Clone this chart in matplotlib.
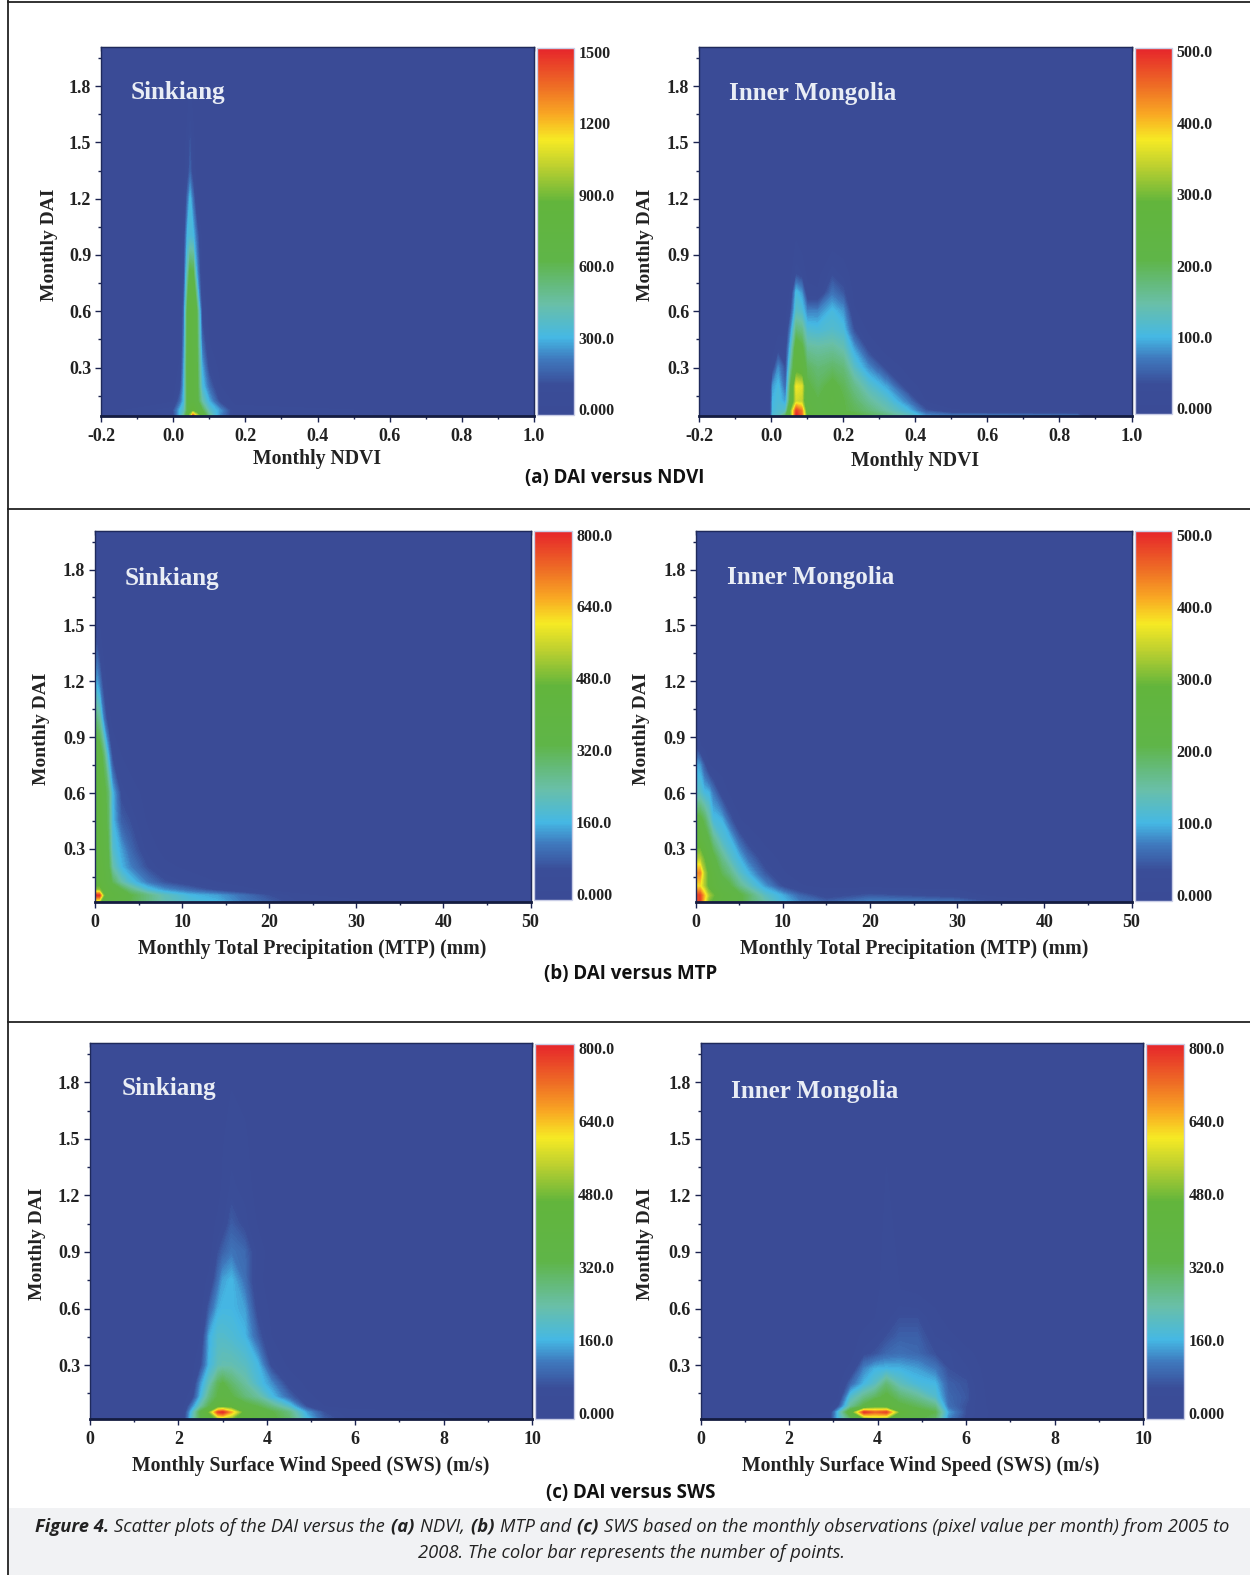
import numpy as np
import matplotlib
matplotlib.use("Agg")
import matplotlib.pyplot as plt
from matplotlib.cm import ScalarMappable
from matplotlib.colors import LinearSegmentedColormap, Normalize
from matplotlib.patches import Rectangle

W, H = 1250, 1575
SERIF = "Liberation Serif"
SANS = "Open Sans"

# =========================
# Data (counts per cell, rows = DAI, cols = x)
# =========================
a1_x = [-0.2, 0.0, 0.02, 0.03, 0.04, 0.047, 0.055, 0.065, 0.08, 0.1, 0.13, 0.17, 1.0]
a1_y = [0.04, 0.07, 0.12, 0.2, 0.3, 0.45, 0.6, 0.8, 1.0, 1.2, 1.35, 1.5, 1.7, 2.01]
a1_z = [
    [0, 90, 340, 500, 750, 1000, 1450, 1100, 800, 500, 240, 70, 0],
    [0, 130, 330, 400, 640, 800, 850, 750, 640, 400, 270, 70, 0],
    [0, 30, 200, 330, 650, 720, 720, 680, 450, 300, 110, 15, 0],
    [0, 0, 110, 310, 660, 720, 720, 670, 350, 190, 40, 0, 0],
    [0, 0, 50, 290, 680, 720, 720, 650, 300, 100, 15, 0, 0],
    [0, 0, 15, 240, 660, 720, 700, 640, 190, 30, 0, 0, 0],
    [0, 0, 0, 200, 650, 720, 720, 620, 100, 5, 0, 0, 0],
    [0, 0, 0, 120, 450, 660, 640, 300, 30, 0, 0, 0, 0],
    [0, 0, 0, 80, 320, 350, 330, 200, 10, 0, 0, 0, 0],
    [0, 0, 0, 10, 200, 320, 200, 40, 0, 0, 0, 0, 0],
    [0, 0, 0, 0, 90, 170, 80, 5, 0, 0, 0, 0, 0],
    [0, 0, 0, 0, 70, 140, 60, 0, 0, 0, 0, 0, 0],
    [0, 0, 0, 0, 20, 60, 20, 0, 0, 0, 0, 0, 0],
    [0, 0, 0, 0, 0, 0, 0, 0, 0, 0, 0, 0, 0],
]

a2_x = [-0.2, -0.005, 0.005, 0.02, 0.04, 0.055, 0.07, 0.085, 0.1, 0.13, 0.17, 0.2, 0.23, 0.27, 0.32, 0.38, 0.43, 0.5, 0.7, 0.85, 0.88, 1.0]
a2_y = [0.04, 0.07, 0.12, 0.2, 0.3, 0.4, 0.5, 0.6, 0.7, 0.8, 0.95, 1.1, 2.01]
a2_z = [
    [0, 0, 120, 130, 200, 300, 500, 450, 280, 240, 240, 230, 220, 200, 180, 140, 90, 85, 85, 80, 0, 0],
    [0, 0, 110, 120, 130, 300, 480, 440, 240, 210, 220, 210, 200, 180, 150, 110, 50, 15, 5, 0, 0, 0],
    [0, 0, 105, 115, 90, 230, 350, 340, 225, 210, 225, 210, 190, 160, 130, 75, 10, 0, 0, 0, 0, 0],
    [0, 0, 90, 110, 60, 210, 370, 360, 215, 195, 220, 200, 170, 130, 95, 25, 0, 0, 0, 0, 0, 0],
    [0, 0, 30, 85, 40, 160, 265, 250, 195, 180, 190, 180, 130, 85, 35, 0, 0, 0, 0, 0, 0, 0],
    [0, 0, 0, 30, 25, 120, 240, 220, 160, 155, 160, 145, 95, 35, 0, 0, 0, 0, 0, 0, 0, 0],
    [0, 0, 0, 5, 5, 85, 180, 170, 120, 115, 125, 115, 45, 5, 0, 0, 0, 0, 0, 0, 0, 0],
    [0, 0, 0, 0, 0, 45, 130, 120, 80, 80, 110, 90, 15, 0, 0, 0, 0, 0, 0, 0, 0, 0],
    [0, 0, 0, 0, 0, 15, 110, 90, 20, 15, 70, 50, 5, 0, 0, 0, 0, 0, 0, 0, 0, 0],
    [0, 0, 0, 0, 0, 5, 40, 30, 5, 5, 40, 25, 0, 0, 0, 0, 0, 0, 0, 0, 0, 0],
    [0, 0, 0, 0, 0, 0, 15, 5, 0, 0, 5, 0, 0, 0, 0, 0, 0, 0, 0, 0, 0, 0],
    [0, 0, 0, 0, 0, 0, 0, 0, 0, 0, 0, 0, 0, 0, 0, 0, 0, 0, 0, 0, 0, 0],
    [0, 0, 0, 0, 0, 0, 0, 0, 0, 0, 0, 0, 0, 0, 0, 0, 0, 0, 0, 0, 0, 0],
]

b1_x = [0, 0.5, 1, 1.5, 2, 3, 4, 6, 8, 11, 14, 17, 20, 25, 50]
b1_y = [0.012, 0.05, 0.08, 0.12, 0.2, 0.3, 0.45, 0.6, 0.8, 1.0, 1.2, 1.4, 1.6, 2.01]
b1_z = [
    [500, 500, 400, 380, 370, 360, 330, 280, 230, 190, 170, 120, 90, 30, 0],
    [790, 780, 480, 400, 400, 380, 340, 280, 220, 170, 150, 110, 70, 20, 0],
    [500, 500, 420, 400, 380, 340, 280, 190, 140, 100, 60, 30, 10, 0, 0],
    [420, 420, 400, 370, 320, 240, 190, 120, 75, 40, 20, 5, 0, 0, 0],
    [420, 420, 390, 350, 240, 170, 130, 70, 30, 10, 0, 0, 0, 0, 0],
    [400, 400, 380, 330, 200, 150, 100, 40, 5, 0, 0, 0, 0, 0, 0],
    [400, 400, 370, 310, 175, 90, 70, 15, 0, 0, 0, 0, 0, 0, 0],
    [400, 400, 360, 300, 170, 60, 40, 5, 0, 0, 0, 0, 0, 0, 0],
    [380, 380, 300, 170, 60, 20, 0, 0, 0, 0, 0, 0, 0, 0, 0],
    [300, 250, 120, 40, 0, 0, 0, 0, 0, 0, 0, 0, 0, 0, 0],
    [170, 120, 40, 0, 0, 0, 0, 0, 0, 0, 0, 0, 0, 0, 0],
    [90, 40, 0, 0, 0, 0, 0, 0, 0, 0, 0, 0, 0, 0, 0],
    [40, 5, 0, 0, 0, 0, 0, 0, 0, 0, 0, 0, 0, 0, 0],
    [0, 0, 0, 0, 0, 0, 0, 0, 0, 0, 0, 0, 0, 0, 0],
]

b2_x = [0, 0.5, 1, 1.5, 2, 3, 4, 5, 6, 8, 10, 12, 15, 20, 30, 35, 50]
b2_y = [0.012, 0.05, 0.1, 0.17, 0.25, 0.35, 0.45, 0.6, 0.75, 0.85, 1.0, 2.01]
b2_z = [
    [400, 480, 380, 300, 280, 240, 230, 220, 190, 150, 110, 80, 60, 85, 75, 40, 0],
    [470, 480, 400, 330, 300, 250, 240, 220, 190, 130, 100, 60, 30, 50, 30, 0, 0],
    [370, 380, 330, 280, 260, 230, 210, 170, 140, 90, 40, 15, 5, 5, 0, 0, 0],
    [420, 430, 330, 280, 250, 200, 170, 130, 105, 50, 15, 0, 0, 0, 0, 0, 0],
    [330, 330, 290, 250, 220, 170, 130, 105, 70, 25, 5, 0, 0, 0, 0, 0, 0],
    [260, 260, 230, 210, 170, 125, 105, 60, 30, 5, 0, 0, 0, 0, 0, 0, 0],
    [225, 225, 200, 160, 115, 105, 55, 15, 5, 0, 0, 0, 0, 0, 0, 0, 0],
    [130, 130, 110, 105, 75, 30, 5, 0, 0, 0, 0, 0, 0, 0, 0, 0, 0],
    [100, 90, 50, 15, 5, 0, 0, 0, 0, 0, 0, 0, 0, 0, 0, 0, 0],
    [40, 15, 5, 0, 0, 0, 0, 0, 0, 0, 0, 0, 0, 0, 0, 0, 0],
    [5, 0, 0, 0, 0, 0, 0, 0, 0, 0, 0, 0, 0, 0, 0, 0, 0],
    [0, 0, 0, 0, 0, 0, 0, 0, 0, 0, 0, 0, 0, 0, 0, 0, 0],
]

c1_x = [0, 2.1, 2.3, 2.5, 2.7, 2.9, 3.0, 3.2, 3.5, 3.8, 4.1, 4.5, 4.9, 5.3, 5.8, 10]
c1_y = [0.014, 0.05, 0.08, 0.13, 0.2, 0.3, 0.45, 0.6, 0.75, 0.9, 1.05, 1.25, 1.5, 2.01]
c1_z = [
    [0, 20, 200, 330, 400, 500, 520, 480, 430, 370, 350, 300, 180, 90, 50, 0],
    [0, 10, 180, 340, 480, 760, 790, 650, 420, 380, 340, 280, 150, 70, 40, 0],
    [0, 0, 120, 240, 330, 420, 440, 420, 360, 330, 280, 200, 70, 20, 5, 0],
    [0, 0, 40, 170, 280, 340, 360, 340, 290, 250, 180, 100, 30, 5, 0, 0],
    [0, 0, 10, 140, 230, 320, 340, 300, 250, 190, 140, 50, 10, 0, 0, 0],
    [0, 0, 0, 60, 170, 220, 230, 230, 210, 170, 60, 10, 0, 0, 0, 0],
    [0, 0, 0, 20, 160, 200, 200, 190, 170, 90, 20, 0, 0, 0, 0, 0],
    [0, 0, 0, 0, 90, 160, 170, 170, 150, 50, 10, 0, 0, 0, 0, 0],
    [0, 0, 0, 0, 30, 110, 150, 170, 110, 30, 0, 0, 0, 0, 0, 0],
    [0, 0, 0, 0, 0, 70, 90, 115, 100, 40, 0, 0, 0, 0, 0, 0],
    [0, 0, 0, 0, 0, 30, 45, 85, 60, 15, 0, 0, 0, 0, 0, 0],
    [0, 0, 0, 0, 0, 0, 25, 55, 40, 0, 0, 0, 0, 0, 0, 0],
    [0, 0, 0, 0, 0, 0, 15, 40, 25, 0, 0, 0, 0, 0, 0, 0],
    [0, 0, 0, 0, 0, 0, 0, 0, 0, 0, 0, 0, 0, 0, 0, 0],
]

c2_x = [0, 2.9, 3.1, 3.4, 3.7, 3.95, 4.2, 4.5, 4.9, 5.3, 5.6, 6, 6.5, 7, 10]
c2_y = [0.014, 0.05, 0.08, 0.13, 0.2, 0.28, 0.36, 0.45, 0.55, 0.7, 2.01]
c2_z = [
    [0, 30, 170, 300, 450, 520, 480, 360, 340, 300, 130, 60, 15, 0, 0],
    [0, 20, 170, 400, 780, 720, 760, 450, 360, 330, 150, 70, 20, 0, 0],
    [0, 0, 60, 260, 350, 420, 400, 350, 320, 280, 110, 70, 15, 0, 0],
    [0, 0, 5, 200, 270, 310, 350, 300, 260, 200, 100, 80, 10, 0, 0],
    [0, 0, 0, 100, 170, 210, 290, 220, 180, 170, 90, 75, 5, 0, 0],
    [0, 0, 0, 30, 130, 165, 170, 165, 150, 120, 70, 55, 0, 0, 0],
    [0, 0, 0, 5, 60, 75, 100, 110, 100, 70, 70, 30, 0, 0, 0],
    [0, 0, 0, 0, 30, 50, 70, 90, 90, 50, 30, 5, 0, 0, 0],
    [0, 0, 0, 0, 5, 20, 40, 70, 70, 30, 5, 0, 0, 0, 0],
    [0, 0, 0, 0, 0, 5, 40, 20, 10, 0, 0, 0, 0, 0, 0],
    [0, 0, 0, 0, 0, 0, 0, 0, 0, 0, 0, 0, 0, 0, 0],
]

y_ticks = [0.3, 0.6, 0.9, 1.2, 1.5, 1.8]
ndvi_ticks = [-0.2, 0.0, 0.2, 0.4, 0.6, 0.8, 1.0]
mtp_ticks = [0, 10, 20, 30, 40, 50]
sws_ticks = [0, 2, 4, 6, 8, 10]

cbar_1500 = ["0.000", "300.0", "600.0", "900.0", "1200", "1500"]
cbar_500 = ["0.000", "100.0", "200.0", "300.0", "400.0", "500.0"]
cbar_800 = ["0.000", "160.0", "320.0", "480.0", "640.0", "800.0"]

# colour scale of the bars
cmap = LinearSegmentedColormap.from_list("points", [
    (0.00, "#3a4b96"), (0.08, "#3a4d98"), (0.15, "#3f78bd"), (0.21, "#45b8e4"),
    (0.30, "#69bfa8"), (0.42, "#5fb548"), (0.58, "#62b53c"), (0.68, "#bfd12f"),
    (0.75, "#f6ea24"), (0.82, "#f9a823"), (0.90, "#ee6b25"), (1.00, "#e6252b"),
])

# =========================
# Helpers
# =========================
fig = plt.figure(figsize=(W / 100, H / 100), dpi=100, facecolor="white")


def box(x0, y0, x1, y1):
    # pixel box (top-left origin) to figure fraction
    return [x0 / W, 1 - y1 / H, (x1 - x0) / W, (y1 - y0) / H]


def panel(ax_box, cax_box, x, y, z, vmax, xticks, ylim, xlabel, cbar_labels, name, name_xy, xlab_px, ylab_px):
    ax = fig.add_axes(box(*ax_box), facecolor="#3a4b96")
    levels = np.linspace(0, vmax, 160)
    ax.contourf(x, y, np.array(z, dtype=float), levels=levels, cmap=cmap, vmin=0, vmax=vmax, extend="both")
    ax.set_xlim(xticks[0], xticks[-1])
    ax.set_ylim(*ylim)

    ax.set_xticks(xticks)
    ax.set_xticks([(a + b) / 2 for a, b in zip(xticks[:-1], xticks[1:])], minor=True)
    ax.set_yticks(y_ticks)
    ax.set_yticks([t - 0.15 for t in y_ticks] + [1.95], minor=True)
    if xticks[0] < 0:
        ax.set_xticklabels(["%.1f" % t for t in xticks])
    else:
        ax.set_xticklabels([str(t) for t in xticks])
    ax.set_yticklabels(["%.1f" % t for t in y_ticks])
    ax.tick_params(which="major", length=4, width=1, color="#1a2350", pad=3)
    ax.tick_params(axis="x", which="major", pad=4.5)
    ax.tick_params(which="minor", length=2, width=1, color="#1a2350")
    for lab in ax.get_xticklabels() + ax.get_yticklabels():
        lab.set_fontfamily(SERIF)
        lab.set_fontweight("bold")
        lab.set_fontsize(13)
        lab.set_color("#222222")
    for side in ax.spines:
        ax.spines[side].set_color("#1f2a5c")
        ax.spines[side].set_linewidth(1.0)
    ax.spines["bottom"].set_linewidth(2.0)
    ax.spines["bottom"].set_color("#141c40")

    # inward ticks on top and right
    top = ax.secondary_xaxis("top")
    top.set_xticks(xticks, labels=[])
    top.tick_params(direction="in", length=3, width=1, color="#1f2a5c")
    right = ax.secondary_yaxis("right")
    right.set_yticks(y_ticks, labels=[])
    right.tick_params(direction="in", length=3, width=1, color="#1f2a5c")

    fig.text(xlab_px[0] / W, 1 - (xlab_px[1] + 2) / H, xlabel, ha="center", va="center",
             family=SERIF, weight="bold", fontsize=14.2, color="#222222")
    fig.text(ylab_px[0] / W, 1 - ylab_px[1] / H, "Monthly DAI", ha="center", va="center", rotation=90,
             family=SERIF, weight="bold", fontsize=14, color="#222222")
    fig.text(name_xy[0] / W, 1 - (name_xy[1] + 2.5) / H, name, ha="left", va="center",
             family=SERIF, weight="bold", fontsize=18.1, color="#e9edf5")

    cax = fig.add_axes(box(*cax_box))
    fig.colorbar(ScalarMappable(Normalize(0, vmax), cmap), cax=cax)
    cax.set_yticks([])
    cax.yaxis.set_ticks_position("none")
    cax.minorticks_off()
    for side in cax.spines:
        cax.spines[side].set_color("#c9cde6")
        cax.spines[side].set_linewidth(1.0)
    for i, lab in enumerate(cbar_labels):
        cax.text(1.12, 0.01 + 0.975 * i / 5, lab, transform=cax.transAxes, ha="left", va="center",
                 family=SERIF, weight="bold", fontsize=11.5, color="#222222")


def caption_line(parts, y_px):
    # run of plain and bold pieces, centred as one line
    r = fig.canvas.get_renderer()
    items = []
    for txt, bold in parts:
        t = fig.text(0, 1 - y_px / H, txt, ha="left", va="center", family=SANS, style="italic",
                     weight="bold" if bold else "normal", fontsize=13.25, color="#222222")
        items.append((t, t.get_window_extent(r).width + (1.0 if txt.endswith(" ") else 0)))
    x = 632 - sum(w for _, w in items) / 2
    for t, w in items:
        t.set_x(x / W)
        x += w


# =========================
# Frame and caption
# =========================
fig.add_artist(Rectangle((8 / W, 0), 1 - 8 / W, 67 / H, transform=fig.transFigure, fc="#f1f2f4", ec="none"))
for y_px in [1.5, 509, 1021.5]:
    fig.add_artist(plt.Line2D([8 / W, 1], [1 - y_px / H] * 2, color="#222222", lw=1.3))
fig.add_artist(plt.Line2D([8 / W, 8 / W], [0, 1], color="#222222", lw=1.3))

for txt, x_px, y_px in [("(a) DAI versus NDVI", 615, 478), ("(b) DAI versus MTP", 631, 974), ("(c) DAI versus SWS", 631, 1493)]:
    fig.text(x_px / W, 1 - y_px / H, txt, ha="center", va="center", family=SANS, weight="bold",
             fontsize=13.5, color="#111111")

caption_line([("Figure 4. ", True), ("Scatter plots of the DAI versus the ", False), ("(a) ", True), ("NDVI, ", False),
              ("(b) ", True), ("MTP and ", False), ("(c) ", True),
              ("SWS based on the monthly observations (pixel value per month) from 2005 to", False)], 1527)
caption_line([("2008. The color bar represents the number of points.", False)], 1553)

# =========================
# Panels
# =========================
YLIM_A = (0.042, 2.008)
YLIM_B = (0.012, 2.007)
YLIM_C = (0.014, 2.008)

panel((101, 47, 534, 416), (537, 48, 574, 415), a1_x, a1_y, a1_z, 1500, ndvi_ticks, YLIM_A,
      "Monthly NDVI", cbar_1500, "Sinkiang", (131, 90), (317, 457), (49, 245))
panel((699, 47, 1131.5, 416), (1135, 48, 1172, 414), a2_x, a2_y, a2_z, 500, ndvi_ticks, YLIM_A,
      "Monthly NDVI", cbar_500, "Inner Mongolia", (729, 91), (915, 459), (646, 245))
panel((95, 531, 530.5, 902.5), (534, 531, 571.5, 900), b1_x, b1_y, b1_z, 800, mtp_ticks, YLIM_B,
      "Monthly Total Precipitation (MTP) (mm)", cbar_800, "Sinkiang", (125, 576), (312, 947), (42, 729))
panel((695.5, 531, 1131.5, 902.5), (1135, 531, 1172, 901), b2_x, b2_y, b2_z, 500, mtp_ticks, YLIM_B,
      "Monthly Total Precipitation (MTP) (mm)", cbar_500, "Inner Mongolia", (727, 575), (914, 947), (642, 729))
panel((90, 1043, 532, 1419), (534.5, 1044, 573.5, 1419), c1_x, c1_y, c1_z, 800, sws_ticks, YLIM_C,
      "Monthly Surface Wind Speed (SWS) (m/s)", cbar_800, "Sinkiang", (122, 1086), (311, 1464), (37, 1244))
panel((700.5, 1043, 1143, 1419), (1145.5, 1044, 1184, 1419), c2_x, c2_y, c2_z, 800, sws_ticks, YLIM_C,
      "Monthly Surface Wind Speed (SWS) (m/s)", cbar_800, "Inner Mongolia", (731, 1089), (921, 1464), (646, 1244))

fig.savefig("out.png", dpi=100)
